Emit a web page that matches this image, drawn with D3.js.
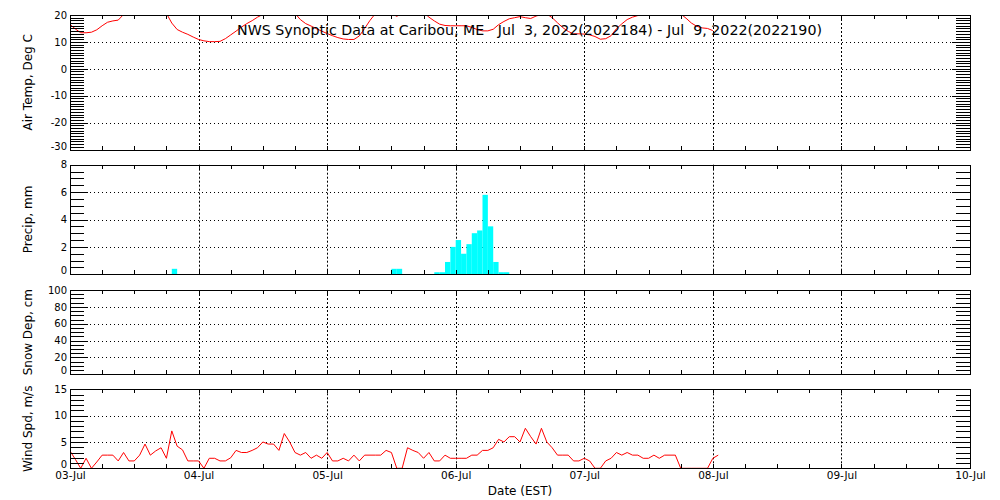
<!DOCTYPE html>
<html>
<head>
<meta charset="utf-8">
<script src="https://cdn.jsdelivr.net/npm/d3@7"></script>
<style>
  html, body { margin: 0; padding: 0; background: #fff; }
  svg { display: block; }
  text { font-family: "DejaVu Sans", sans-serif; fill: #000; }
</style>
</head>
<body>
<svg id="chart" width="1000" height="500"></svg>
<script>
// ---------------- data ----------------
const titleText = "NWS Synoptic Data at Caribou, ME   Jul  3, 2022(2022184) - Jul  9, 2022(2022190)";
const xLabel = "Date (EST)";
const panelLabels = ["Air Temp, Deg C", "Precip, mm", "Snow Dep, cm", "Wind Spd, m/s"];

// hourly air temperature (deg C), starting 03-Jul 00:00 EST
const airTemp = [
  16.5, 14.8, 13.4, 13.4, 13.6, 14.5, 16.0, 17.3, 17.8, 18.1,
  20.2, 21.5, 22.6, 23.5, 24.0, 24.0, 23.2, 22.0, 20.6, 17.0,
  14.6, 13.6, 12.8, 11.8, 10.9, 10.4, 10.1, 10.1, 10.2, 11.2,
  12.6, 14.0, 15.5, 16.8, 17.9, 19.2, 20.2, 21.8, 23.0, 24.0,
  23.8, 22.5, 20.6, 18.3, 16.8, 15.9, 14.9, 14.0, 13.1, 12.3,
  11.6, 11.1, 10.9, 10.9, 12.2, 15.0, 18.0, 20.5, 22.0, 21.5,
  20.6, 19.5, 20.8, 22.5, 23.0, 22.4, 21.0, 19.2, 17.8, 16.6,
  16.1, 16.0, 16.0, 16.0, 16.0, 15.4, 14.6, 14.1, 14.1, 14.7,
  16.4, 17.6, 18.6, 19.0, 19.4, 19.0, 18.7, 19.6, 20.2, 20.4,
  19.0, 17.1, 15.3, 13.9, 13.0, 13.0, 12.9, 12.6, 12.0, 11.0,
  11.2, 12.3, 14.9, 16.7, 18.3, 19.2, 19.8, 20.3, 21.5, 22.8,
  23.6, 23.6, 22.8, 21.6, 20.4, 18.8, 17.0, 15.8, 15.2, 15.0,
  14.2
];

// hourly precipitation (mm): hour index since 03-Jul 00:00 and amount
const precipHours  = [19, 60, 61, 68, 69, 70, 71, 72, 73, 74, 75, 76, 77, 78, 79, 80, 81];
const precipValues = [0.4, 0.4, 0.4, 0.15, 0.15, 0.9, 2.0, 2.5, 1.5, 2.2, 3.0, 3.2, 5.8, 3.5, 0.9, 0.15, 0.15];

// snow depth: no observations in this period
const snowDepth = [];

// hourly wind speed (m/s), starting 03-Jul 00:00 EST
const windSpeed = [
  3.3, 1.7, 0.0, 1.9, 0.0, 1.2, 2.5, 2.5, 2.5, 1.4,
  3.0, 1.4, 1.4, 2.5, 4.6, 2.5, 3.3, 3.9, 1.9, 7.1,
  4.2, 3.5, 1.4, 1.4, 1.4, 0.0, 1.9, 1.9, 1.4, 1.4,
  2.0, 3.4, 3.0, 3.0, 3.4, 3.9, 5.0, 4.6, 4.6, 3.4,
  6.6, 5.0, 3.0, 2.5, 3.0, 1.9, 2.5, 1.9, 3.0, 1.4,
  1.4, 1.9, 1.4, 2.5, 1.4, 2.5, 2.5, 2.5, 2.5, 3.4,
  3.0, 0.0, 0.0, 3.9, 3.4, 3.0, 1.9, 3.0, 1.4, 1.4,
  2.5, 1.9, 1.9, 1.9, 1.9, 2.5, 2.5, 3.4, 3.4, 3.9,
  5.5, 5.0, 6.0, 6.0, 5.0, 7.6, 6.0, 4.6, 7.6, 5.0,
  3.9, 2.5, 2.5, 2.5, 1.4, 1.4, 1.9, 1.4, 0.0, 0.0,
  1.4, 1.9, 3.0, 2.5, 3.0, 2.5, 2.5, 1.9, 1.9, 2.5,
  1.9, 2.5, 2.5, 2.5, 0.0, 0.0, 0.0, 0.0, 0.0, 0.0,
  1.9, 2.5
];

// axis ranges / ticks
const tempTicks   = [-30, -20, -10, 0, 10, 20];
const precipTicks = [0, 2, 4, 6, 8];
const snowTicks   = [0, 20, 40, 60, 80, 100];
const windTicks   = [0, 5, 10, 15];
const tempMinorStep = 1, precipMinorStep = 0.5, snowMinorStep = 5, windMinorStep = 1;

// ---------------- layout ----------------
const t0 = Date.UTC(2022, 6, 3);
const t1 = Date.UTC(2022, 6, 10);
const hour = h => new Date(t0 + h * 3600e3);
const L = 70, R = 970;

const svg = d3.select("#chart");
const x = d3.scaleUtc().domain([t0, t1]).range([L, R]);

const panels = [
  { label: panelLabels[0], ticks: tempTicks,   step: tempMinorStep,   top: 15,    bottom: 149.5 },
  { label: panelLabels[1], ticks: precipTicks, step: precipMinorStep, top: 164.7, bottom: 274.3 },
  { label: panelLabels[2], ticks: snowTicks,   step: snowMinorStep,   top: 290,   bottom: 374.3 },
  { label: panelLabels[3], ticks: windTicks,   step: windMinorStep,   top: 389.3, bottom: 468.3 }
];

const dayTicks = d3.utcDay.range(new Date(t0), new Date(t1 + 1));
const innerDays = dayTicks.filter(d => +d > t0 && +d < t1);
const sixHour = d3.utcHour.every(6).range(new Date(t0), new Date(t1 + 1));
const fmtNum = d => (d < 0 ? "-" : "") + Math.abs(d);

panels.forEach((p, i) => {
  const lo = p.ticks[0], hi = p.ticks[p.ticks.length - 1];
  const y = d3.scaleLinear().domain([lo, hi]).range([p.bottom, p.top]);
  p.y = y;
  const g = svg.append("g");

  const clipId = "clip" + i;
  svg.append("clipPath").attr("id", clipId).append("rect")
    .attr("x", L).attr("y", p.top).attr("width", R - L).attr("height", p.bottom - p.top);
  p.clip = `url(#${clipId})`;

  // horizontal grid
  g.append("g").selectAll("line")
    .data(p.ticks.filter(v => v !== lo && v !== hi))
    .join("line")
    .attr("x1", L).attr("x2", R)
    .attr("y1", d => Math.round(y(d)) + 0.5).attr("y2", d => Math.round(y(d)) + 0.5)
    .attr("stroke", "#000").attr("stroke-width", 1).attr("stroke-dasharray", "1,3");

  // vertical grid (days)
  g.append("g").selectAll("line")
    .data(innerDays)
    .join("line")
    .attr("x1", d => Math.round(x(d)) + 0.5).attr("x2", d => Math.round(x(d)) + 0.5)
    .attr("y1", p.top).attr("y2", p.bottom)
    .attr("stroke", "#000").attr("stroke-width", 1).attr("stroke-dasharray", "2,2");
});

// ---------------- marks ----------------
{
  const p = panels[0];
  svg.append("path")
    .datum(airTemp)
    .attr("clip-path", p.clip)
    .attr("fill", "none").attr("stroke", "#ff0000").attr("stroke-width", 1)
    .attr("d", d3.line().x((d, i) => x(hour(i))).y(d => p.y(d)));
}
{
  const p = panels[1];
  svg.append("g").attr("clip-path", p.clip)
    .selectAll("rect")
    .data(precipHours.map((h, i) => ({ h, v: precipValues[i] })))
    .join("rect")
    .attr("x", d => x(hour(d.h)))
    .attr("width", d => x(hour(d.h + 1)) - x(hour(d.h)))
    .attr("y", d => p.y(d.v))
    .attr("height", d => p.y(0) - p.y(d.v))
    .attr("fill", "#00ffff");
}
{
  const p = panels[2];
  svg.append("path")
    .datum(snowDepth)
    .attr("clip-path", p.clip)
    .attr("fill", "none").attr("stroke", "#ff0000")
    .attr("d", d3.line().x((d, i) => x(hour(i))).y(d => p.y(d)));
}
{
  const p = panels[3];
  svg.append("path")
    .datum(windSpeed)
    .attr("clip-path", p.clip)
    .attr("fill", "none").attr("stroke", "#ff0000").attr("stroke-width", 1)
    .attr("d", d3.line().x((d, i) => x(hour(i))).y(d => p.y(d)));
}

// ---------------- axes / frames ----------------
panels.forEach((p, i) => {
  const y = p.y;
  const lo = p.ticks[0], hi = p.ticks[p.ticks.length - 1];
  const n = Math.round((hi - lo) / p.step);
  const minor = d3.range(n + 1).map(k => lo + k * p.step);
  const g = svg.append("g");

  g.append("g").attr("transform", `translate(${L},0)`)
    .call(d3.axisLeft(y).tickValues(minor).tickSize(-14).tickFormat(""))
    .call(a => a.select(".domain").remove());
  g.append("g").attr("transform", `translate(${L},0)`)
    .call(d3.axisLeft(y).tickValues(p.ticks).tickSize(-18).tickPadding(3).tickFormat(fmtNum))
    .call(a => a.select(".domain").remove())
    .call(a => a.selectAll("text").attr("font-size", 10).attr("font-family", "DejaVu Sans")
      .attr("dy", d => d === lo ? "-0.05em" : "0.32em"));
  g.append("g").attr("transform", `translate(${R},0)`)
    .call(d3.axisRight(y).tickValues(minor).tickSize(-14).tickFormat(""))
    .call(a => a.select(".domain").remove());
  g.append("g").attr("transform", `translate(${R},0)`)
    .call(d3.axisRight(y).tickValues(p.ticks).tickSize(-18).tickFormat(""))
    .call(a => a.select(".domain").remove());
  g.append("g").attr("transform", `translate(0,${p.top})`)
    .call(d3.axisTop(x).tickValues(sixHour).tickSize(-4).tickFormat(""))
    .call(a => a.select(".domain").remove());
  g.append("g").attr("transform", `translate(0,${p.bottom})`)
    .call(d3.axisBottom(x).tickValues(sixHour).tickSize(-4).tickFormat(""))
    .call(a => a.select(".domain").remove());

  g.selectAll(".tick line").attr("stroke", "#000").attr("shape-rendering", "crispEdges");

  g.append("rect")
    .attr("x", L + 0.5).attr("y", Math.round(p.top) + 0.5)
    .attr("width", R - L).attr("height", Math.round(p.bottom) - Math.round(p.top))
    .attr("fill", "none").attr("stroke", "#000").attr("stroke-width", 1);

  svg.append("text")
    .attr("transform", `translate(32,${(p.top + p.bottom) / 2}) rotate(-90)`)
    .attr("text-anchor", "middle")
    .attr("font-size", 12)
    .text(p.label);
});

// date labels under bottom panel
svg.append("g").attr("transform", `translate(0,${panels[3].bottom})`)
  .call(d3.axisBottom(x).tickValues(dayTicks).tickSize(0).tickPadding(3)
    .tickFormat(d3.utcFormat("%d-%b")))
  .call(a => a.select(".domain").remove())
  .call(a => a.selectAll("text").attr("font-size", 10.5).attr("font-family", "DejaVu Sans")
    .attr("dy", "0.71em"));

svg.append("text")
  .attr("x", 520).attr("y", 495)
  .attr("text-anchor", "middle")
  .attr("font-size", 12)
  .text(xLabel);

svg.append("text")
  .attr("x", 237).attr("y", 35)
  .attr("font-size", 13.5)
  .attr("textLength", 585)
  .attr("lengthAdjust", "spacingAndGlyphs")
  .style("white-space", "pre")
  .text(titleText);
</script>
</body>
</html>
